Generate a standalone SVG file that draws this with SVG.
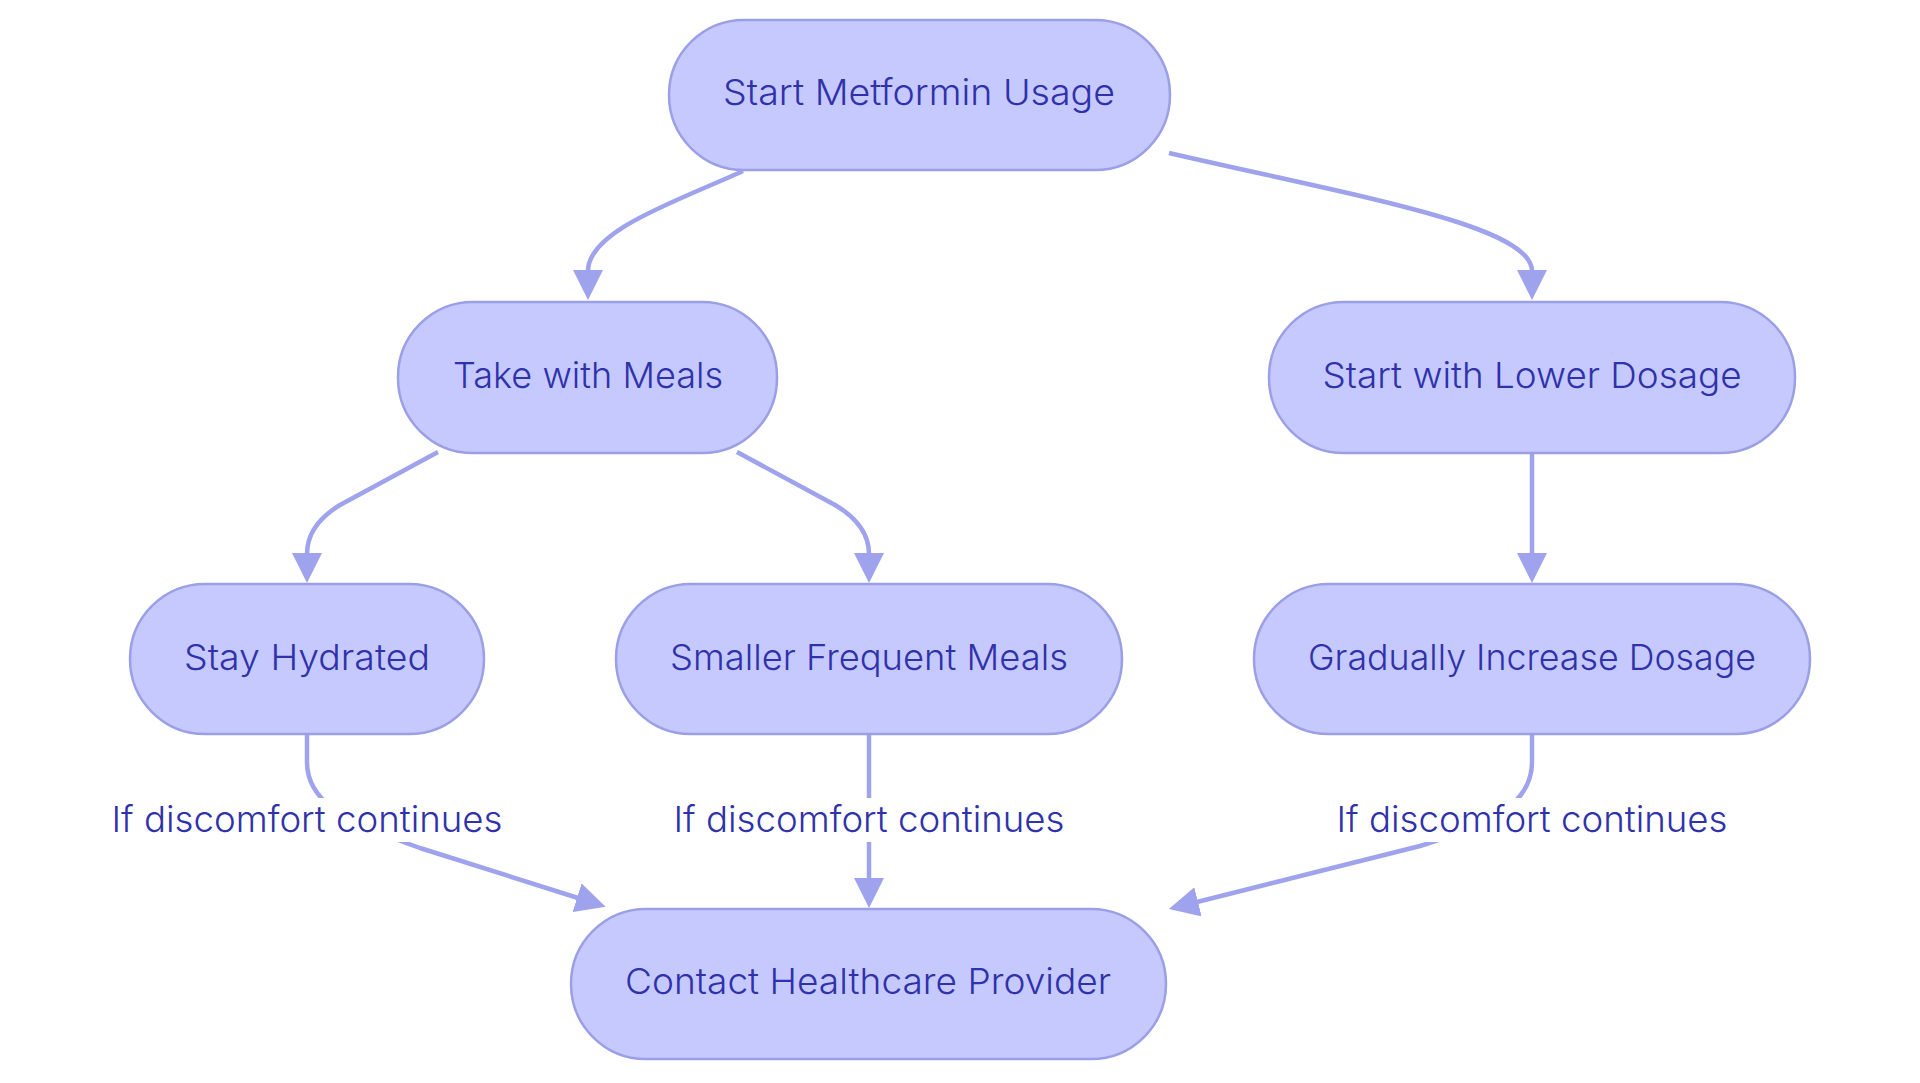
<svg xmlns="http://www.w3.org/2000/svg" width="1920" height="1083" viewBox="0 0 1920 1083">
<defs>
<style>
.node rect{fill:#c6c9fd;stroke:#9b9fe6;stroke-width:2.5}
.node text,.lbl text{font-family:Inter,"Liberation Sans",sans-serif;font-size:36px;font-weight:300;fill:#2f32aa;text-anchor:middle}
.edge{fill:none;stroke:#9fa2ec;stroke-width:4.5}
.lbl rect{fill:#ffffff}
</style>
<marker id="arr" markerUnits="userSpaceOnUse" viewBox="0 0 30 30" refX="1" refY="15" markerWidth="30" markerHeight="30" orient="auto">
<path d="M0,0 L30,15 L0,30 z" fill="#9fa2ec"/>
</marker>
</defs>
<rect width="1920" height="1083" fill="#ffffff"/>
<g id="connectors">
<path class="edge" marker-end="url(#arr)" d="M743,171 C680,200 588,230 588,271"/>
<path class="edge" marker-end="url(#arr)" d="M1169,153 C1350,195 1532,225 1532,271"/>
<path class="edge" marker-end="url(#arr)" d="M438,452 L340,505 Q307,525 307,554"/>
<path class="edge" marker-end="url(#arr)" d="M737,452 L835,505 Q869,525 869,554"/>
<path class="edge" marker-end="url(#arr)" d="M1532,453 L1532,554"/>
<path class="edge" marker-end="url(#arr)" d="M307,734 L307,762 C307,800 340,820 420,848 L578,898"/>
<path class="edge" marker-end="url(#arr)" d="M869,734 L869,879"/>
<path class="edge" marker-end="url(#arr)" d="M1532,734 L1532,762 C1532,800 1500,822 1420,846 L1197,902"/>
<g class="lbl" id="label1"><rect x="105" y="798" width="404" height="44"/><text x="307" y="832" textLength="391" lengthAdjust="spacingAndGlyphs">If discomfort continues</text></g>
<g class="lbl" id="label2"><rect x="667" y="798" width="404" height="44"/><text x="869" y="832" textLength="391" lengthAdjust="spacingAndGlyphs">If discomfort continues</text></g>
<g class="lbl" id="label3"><rect x="1330" y="798" width="404" height="44"/><text x="1532" y="832" textLength="391" lengthAdjust="spacingAndGlyphs">If discomfort continues</text></g>
</g>
<g id="n1" class="node"><rect x="669" y="20" width="501" height="150" rx="75"/><text x="919" y="105" textLength="392" lengthAdjust="spacingAndGlyphs">Start Metformin Usage</text></g>
<g id="n2" class="node"><rect x="398" y="302" width="379" height="151" rx="75"/><text x="588" y="388" textLength="270" lengthAdjust="spacingAndGlyphs">Take with Meals</text></g>
<g id="n3" class="node"><rect x="1269" y="302" width="526" height="151" rx="75"/><text x="1532" y="388" textLength="419" lengthAdjust="spacingAndGlyphs">Start with Lower Dosage</text></g>
<g id="n4" class="node"><rect x="130" y="584" width="354" height="150" rx="75"/><text x="307" y="670" textLength="246" lengthAdjust="spacingAndGlyphs">Stay Hydrated</text></g>
<g id="n5" class="node"><rect x="616" y="584" width="506" height="150" rx="75"/><text x="869" y="670" textLength="398" lengthAdjust="spacingAndGlyphs">Smaller Frequent Meals</text></g>
<g id="n6" class="node"><rect x="1254" y="584" width="556" height="150" rx="75"/><text x="1532" y="670" textLength="448" lengthAdjust="spacingAndGlyphs">Gradually Increase Dosage</text></g>
<g id="n7" class="node"><rect x="571" y="909" width="595" height="150" rx="75"/><text x="868" y="994" textLength="486" lengthAdjust="spacingAndGlyphs">Contact Healthcare Provider</text></g>
</svg>
